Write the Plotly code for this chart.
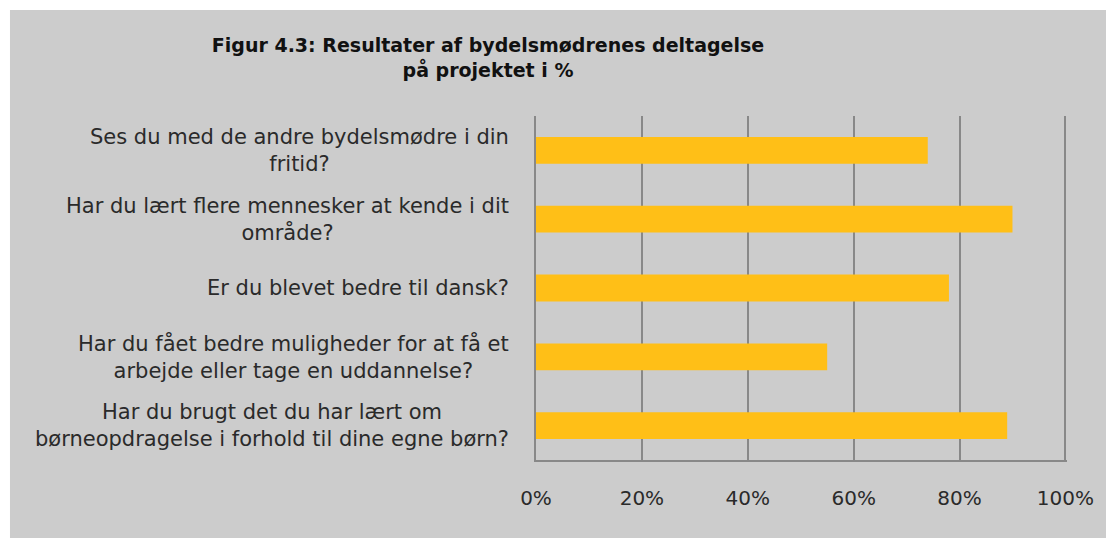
import plotly.graph_objects as go

categories = [
    "Ses du med de andre bydelsmødre i din<br>fritid?",
    "Har du lært flere mennesker at kende i dit<br>område?",
    "Er du blevet bedre til dansk?",
    "Har du fået bedre muligheder for at få et<br>arbejde eller tage en uddannelse?",
    "Har du brugt det du har lært om<br>børneopdragelse i forhold til dine egne børn?",
]
values = [74, 90, 78, 55, 89]
x_ticks = [0, 20, 40, 60, 80, 100]
x_tick_labels = ["0%", "20%", "40%", "60%", "80%", "100%"]
title_text = "Figur 4.3: Resultater af bydelsmødrenes deltagelse<br>på projektet i %"

GRAY_BG = "#cccccc"
BAR = "#FFBF17"
GRID = "#888888"
FONT = "DejaVu Sans"

fig = go.Figure()
fig.add_trace(go.Bar(
    x=values, y=categories, orientation="h",
    marker=dict(color=BAR, line=dict(width=0)),
    hoverinfo="skip",
))

W, H = 1106, 538
L, R, T, B = 536, 36, 116, 78
pw, ph = W - L - R, H - T - B

# white border strips at top and left of the gray panel
fig.add_shape(type="rect", xref="paper", yref="paper", layer="below",
              x0=-L / pw - 0.01, x1=(W - L) / pw + 0.01,
              y0=(H - 10 - B) / ph, y1=(H - B) / ph + 0.01,
              fillcolor="white", line=dict(width=0))
fig.add_shape(type="rect", xref="paper", yref="paper", layer="below",
              x0=-L / pw - 0.01, x1=(7 - L) / pw,
              y0=-B / ph - 0.01, y1=(H - B) / ph + 0.01,
              fillcolor="white", line=dict(width=0))

# category labels as centered annotations
for c in categories:
    fig.add_annotation(x=0, xref="paper", y=c, yref="y", text=c,
                       showarrow=False, xanchor="right", xshift=-25,
                       align="center",
                       font=dict(family=FONT, size=21, color="#2a2a2a"))

fig.update_layout(
    width=W, height=H,
    margin=dict(l=L, r=R, t=T, b=B),
    paper_bgcolor=GRAY_BG,
    plot_bgcolor="rgba(0,0,0,0)",
    bargap=0.61,
    showlegend=False,
    title=dict(text="<b>" + title_text + "</b>", x=488 / W, xanchor="center",
               y=1 - 52 / H, yanchor="top",
               font=dict(family=FONT, size=19, color="#111111")),
    xaxis=dict(range=[0, 100.3], tickvals=x_ticks, ticktext=x_tick_labels,
               showgrid=True, gridcolor=GRID, gridwidth=2,
               showline=True, linecolor=GRID, linewidth=2,
               zeroline=False, ticks="", ticklabelstandoff=19,
               tickfont=dict(family=FONT, size=20, color="#2a2a2a")),
    yaxis=dict(autorange="reversed", showticklabels=False,
               showline=True, linecolor=GRID, linewidth=2,
               showgrid=False, zeroline=False, ticks=""),
)

fig.write_html("out.html", config={"displayModeBar": False},
               post_script="document.body.style.margin='0';")
